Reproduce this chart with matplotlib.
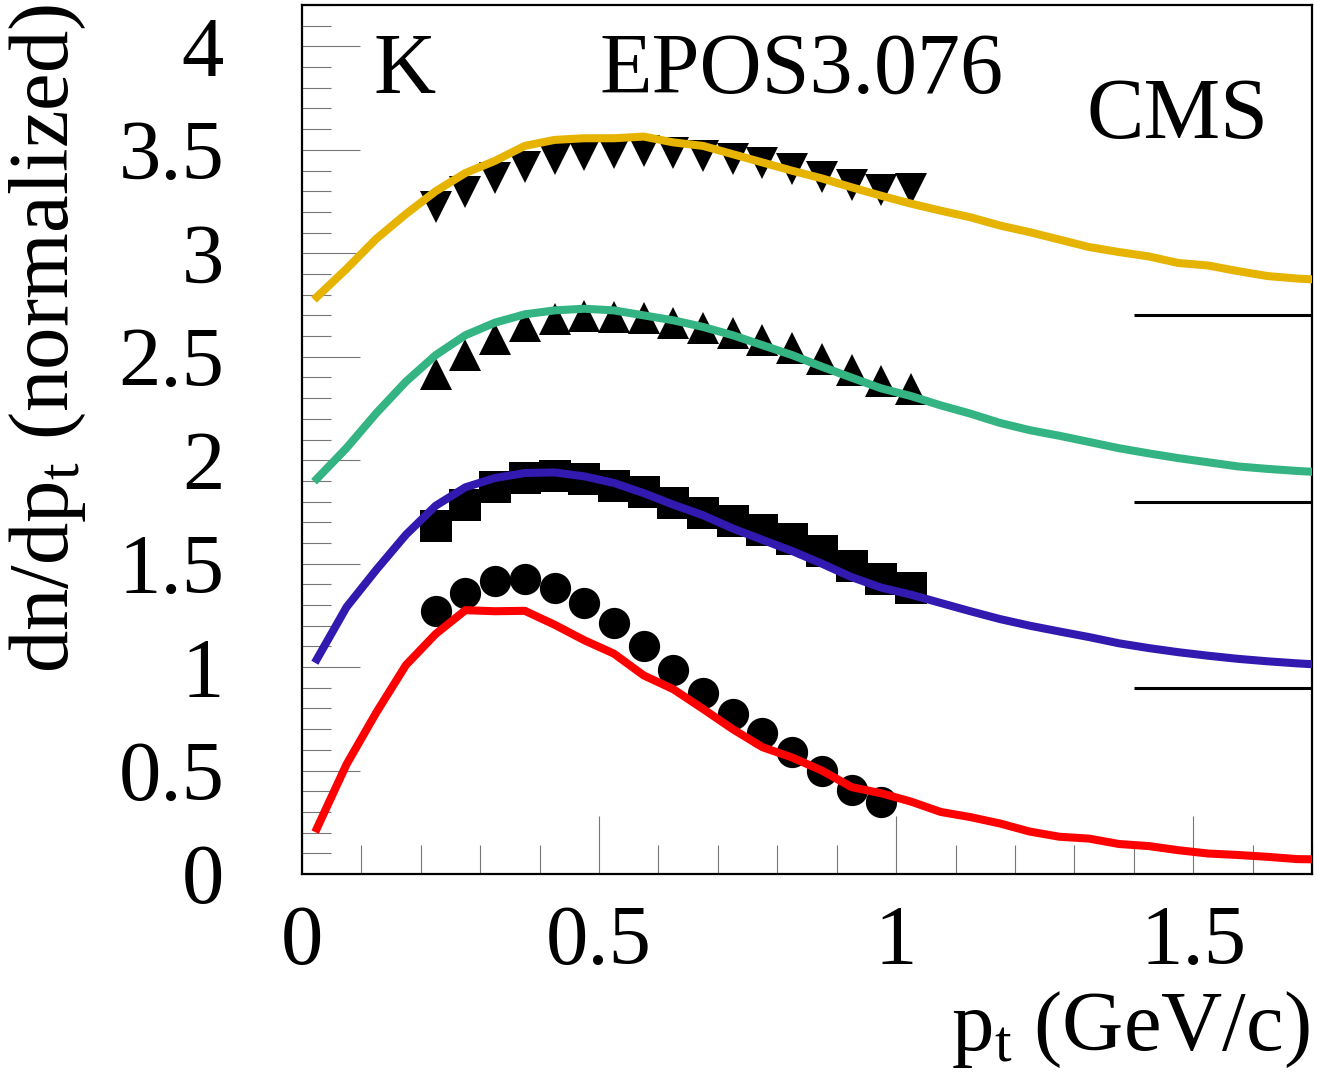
import matplotlib
matplotlib.use("Agg")
import matplotlib.pyplot as plt
from matplotlib.ticker import MultipleLocator, FuncFormatter

plt.rcParams['font.family'] = ['Liberation Serif', 'DejaVu Serif']
plt.rcParams['mathtext.fontset'] = 'custom'
plt.rcParams['mathtext.rm'] = 'Liberation Serif'
plt.rcParams['mathtext.it'] = 'Liberation Serif:italic'

# model curves (EPOS3.076), bin centres in pt (GeV/c)
pt_model = [0.025, 0.075, 0.125, 0.175, 0.225, 0.275, 0.325, 0.375, 0.425, 0.475,
            0.525, 0.575, 0.625, 0.675, 0.725, 0.775, 0.825, 0.875, 0.925, 0.975,
            1.025, 1.075, 1.125, 1.175, 1.225, 1.275, 1.325, 1.375, 1.425, 1.475,
            1.525, 1.575, 1.625, 1.675, 1.725]
model_red = [0.22, 0.53, 0.78, 1.01, 1.16, 1.275, 1.27, 1.272, 1.205, 1.13,
             1.065, 0.96, 0.893, 0.798, 0.70, 0.613, 0.563, 0.50, 0.42, 0.39,
             0.35, 0.30, 0.275, 0.244, 0.205, 0.18, 0.171, 0.145, 0.135, 0.115,
             0.099, 0.092, 0.083, 0.072, 0.07]
model_blue = [1.038, 1.29, 1.47, 1.64, 1.78, 1.869, 1.914, 1.938, 1.941, 1.922,
              1.89, 1.841, 1.785, 1.734, 1.67, 1.615, 1.561, 1.50, 1.435, 1.384,
              1.35, 1.31, 1.27, 1.232, 1.20, 1.172, 1.145, 1.115, 1.092, 1.072,
              1.055, 1.04, 1.028, 1.018, 1.01]
model_green = [1.91, 2.059, 2.227, 2.38, 2.508, 2.604, 2.665, 2.705, 2.724, 2.732,
               2.724, 2.70, 2.676, 2.644, 2.604, 2.556, 2.508, 2.452, 2.399, 2.347,
               2.31, 2.265, 2.225, 2.18, 2.145, 2.118, 2.088, 2.058, 2.033, 2.01,
               1.99, 1.97, 1.958, 1.948, 1.94]
model_yellow = [2.789, 2.925, 3.07, 3.19, 3.30, 3.388, 3.447, 3.519, 3.548, 3.556,
                3.556, 3.564, 3.536, 3.519, 3.479, 3.439, 3.399, 3.362, 3.319, 3.278,
                3.24, 3.206, 3.174, 3.134, 3.102, 3.066, 3.03, 3.006, 2.985, 2.953,
                2.941, 2.914, 2.89, 2.878, 2.87]

# CMS data
pt_circ = [0.225, 0.275, 0.325, 0.375, 0.425, 0.475, 0.525, 0.575, 0.625, 0.675,
           0.725, 0.775, 0.825, 0.875, 0.925, 0.975]
data_circ = [1.27, 1.36, 1.416, 1.424, 1.381, 1.311, 1.215, 1.10, 0.987, 0.875,
             0.774, 0.681, 0.589, 0.497, 0.405, 0.348]
pt_data = [0.225, 0.275, 0.325, 0.375, 0.425, 0.475, 0.525, 0.575, 0.625, 0.675,
           0.725, 0.775, 0.825, 0.875, 0.925, 0.975, 1.025]
data_square = [1.68, 1.782, 1.87, 1.913, 1.925, 1.909, 1.874, 1.845, 1.793, 1.745,
               1.705, 1.665, 1.617, 1.561, 1.488, 1.427, 1.383]
data_up = [2.416, 2.508, 2.588, 2.649, 2.683, 2.699, 2.693, 2.687, 2.665, 2.641,
           2.617, 2.582, 2.542, 2.49, 2.437, 2.384, 2.342]
data_down = [3.222, 3.297, 3.365, 3.417, 3.454, 3.474, 3.486, 3.494, 3.484, 3.468,
             3.455, 3.434, 3.405, 3.368, 3.331, 3.307, 3.309]

offsets = [0.9, 1.8, 2.7]
offset_x = [1.4, 1.7]

W, H = 1317, 1078
fig = plt.figure(figsize=(W / 100, H / 100), dpi=100)
ax = fig.add_axes([302 / W, 1 - 874 / H, (1312 - 302) / W, (874 - 5) / H])

ms = 22.5
ax.plot(pt_circ, data_circ, 'o', color='black', ms=ms, mew=0, zorder=3)
ax.plot(pt_data, data_square, 's', color='black', ms=ms, mew=0, zorder=3)
ax.plot(pt_data, data_up, '^', color='black', ms=ms, mew=0, zorder=3)
ax.plot(pt_data, data_down, 'v', color='black', ms=ms, mew=0, zorder=3)

lw = 5.8
ax.plot(pt_model, model_red, color='#FF0000', lw=lw, zorder=4)
ax.plot(pt_model, model_blue, color='#3219AF', lw=lw, zorder=4)
ax.plot(pt_model, model_green, color='#33B482', lw=lw, zorder=4)
ax.plot(pt_model, model_yellow, color='#E6B400', lw=lw, zorder=4)

ax.hlines(offsets, offset_x[0], offset_x[1], color='black', lw=2.2, zorder=2)

ax.set_xlim(0, 1.7)
ax.set_ylim(0, 4.2)

for s in ax.spines.values():
    s.set_linewidth(1.6)
    s.set_color('black')

ax.xaxis.set_major_locator(MultipleLocator(0.5))
ax.xaxis.set_minor_locator(MultipleLocator(0.1))
ax.yaxis.set_major_locator(MultipleLocator(0.5))
ax.yaxis.set_minor_locator(MultipleLocator(0.1))
fmt = FuncFormatter(lambda v, p: ('%g' % round(v, 2)))
ax.xaxis.set_major_formatter(fmt)
ax.yaxis.set_major_formatter(fmt)

ax.tick_params(which='both', direction='in', color='#777777', width=0.8,
               top=False, right=False)
ax.tick_params(which='major', length=42)
ax.tick_params(which='minor', length=21)
ax.tick_params(axis='y', which='major', labelsize=61, pad=56)
ax.tick_params(axis='x', which='major', labelsize=61, pad=22)

fig.text(1310 / W, 1 - 1050 / H, r'p$_{\rm t}$ (GeV/c)', fontsize=61,
         ha='right', va='baseline')
fig.text(48 / W, 1 - 4 / H, r'dn/dp$_{\rm t}$ (normalized)', fontsize=61,
         ha='center', va='top', rotation=90)

ax.text(405 / W, 1 - 93 / H, 'K', fontsize=62, ha='center', va='baseline',
        transform=fig.transFigure)
ax.text(802 / W, 1 - 93 / H, 'EPOS3.076', fontsize=62, ha='center', va='baseline',
        transform=fig.transFigure)
ax.text(1178 / W, 1 - 138 / H, 'CMS', fontsize=62, ha='center', va='baseline',
        transform=fig.transFigure)

fig.savefig('out.png', dpi=100)
